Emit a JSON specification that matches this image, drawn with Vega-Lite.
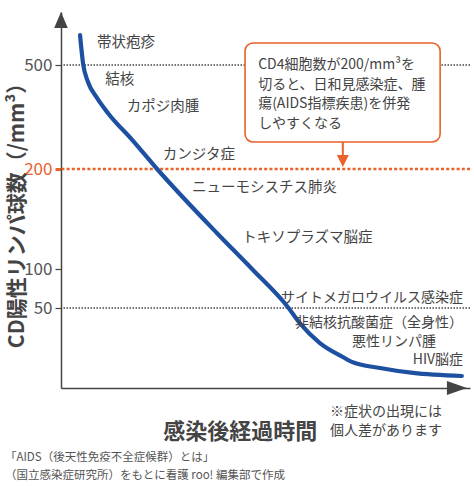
{
  "$schema": "https://vega.github.io/schema/vega-lite/v6.json",
  "width": 409,
  "height": 376,
  "autosize": "none",
  "padding": {"left": 61, "top": 12, "right": 4, "bottom": 98},
  "background": "white",
  "config": {"font": "Noto Sans CJK JP", "view": {"stroke": null}},
  "title": {
    "text": ["「AIDS（後天性免疫不全症候群）とは」", "（国立感染症研究所）をもとに看護 roo! 編集部で作成"],
    "orient": "bottom",
    "anchor": "start",
    "frame": "group",
    "dx": -56,
    "offset": 9,
    "fontSize": 11.5,
    "fontWeight": "normal",
    "color": "#555555",
    "lineHeight": 17.5
  },
  "datasets": {
    "grayLines": [{"y": 500}, {"y": 50}],
    "orangeLine": [{"y": 200}],
    "curve": [
      {"x": 4.65, "y": 613}, {"x": 5.4, "y": 505}, {"x": 6.6, "y": 451}, {"x": 8.8, "y": 405},
      {"x": 11.5, "y": 361}, {"x": 17.4, "y": 284}, {"x": 23.5, "y": 200}, {"x": 38.1, "y": 136},
      {"x": 46.7, "y": 100}, {"x": 55.5, "y": 51}, {"x": 58.4, "y": 40.6}, {"x": 63.3, "y": 28.1},
      {"x": 68.9, "y": 19.4}, {"x": 71.1, "y": 16.3}, {"x": 78.0, "y": 12.5}, {"x": 86.1, "y": 9.4},
      {"x": 98.0, "y": 7.5}
    ],
    "box": [{"x": 45.0, "x2": 92.7, "y": 583, "y2": 278}],
    "stem": [{"x": 68.9, "y": 278, "y2": 235}],
    "head": [{"x": 68.9, "y": 223}],
    "boxText": [{"x": 48.2, "y": 500, "label": "CD4細胞数が200/mm³を\n切ると、日和見感染症、腫\n瘍(AIDS指標疾患)を併発\nしやすくなる"}],
    "leftLabels": [
      {"x": 8.8, "y": 583, "label": "帯状疱疹"},
      {"x": 10.8, "y": 457, "label": "結核"},
      {"x": 16.1, "y": 379, "label": "カポジ肉腫"},
      {"x": 24.9, "y": 240, "label": "カンジタ症"},
      {"x": 32.0, "y": 181, "label": "ニューモシスチス肺炎"},
      {"x": 44.3, "y": 131, "label": "トキソプラズマ脳症"}
    ],
    "rightLabels": [
      {"x": 98.3, "y": 62.8, "label": "サイトメガロウイルス感染症"},
      {"x": 98.3, "y": 40.6, "label": "非結核抗酸菌症（全身性）"},
      {"x": 91.7, "y": 28.75, "label": "悪性リンパ腫"},
      {"x": 98.3, "y": 17.5, "label": "HIV脳症"}
    ],
    "note": [{"x": 65.8, "y": -15, "label": "※症状の出現には\n　個人差があります"}],
    "xTitle": [{"x": 43.8, "y": -27.5, "label": "感染後経過時間"}],
    "yArrow": [{"x": 0, "y": 670}],
    "xArrow": [{"x": 96.8, "y": 0}]
  },
  "layer": [
    {
      "data": {"name": "grayLines"},
      "mark": {"type": "rule", "color": "#444444", "strokeWidth": 1.3, "strokeDash": [1.5, 1.5]},
      "encoding": {
        "y": {"field": "y", "type": "quantitative",
              "scale": {"domain": [0, 50, 100, 200, 500, 700], "range": [376, 296, 257, 157, 53, 0], "nice": false, "zero": false}}
      }
    },
    {
      "data": {"name": "orangeLine"},
      "mark": {"type": "rule", "color": "#E8622A", "strokeWidth": 2.6, "strokeDash": [3, 2.2]},
      "encoding": {
        "y": {"field": "y", "type": "quantitative",
              "scale": {"domain": [0, 50, 100, 200, 500, 700], "range": [376, 296, 257, 157, 53, 0], "nice": false, "zero": false}}
      }
    },
    {
      "data": {"name": "curve"},
      "mark": {"type": "line", "color": "#1E50A2", "strokeWidth": 4.2, "interpolate": "monotone", "strokeCap": "round"},
      "encoding": {
        "x": {"field": "x", "type": "quantitative",
              "scale": {"domain": [0, 100], "nice": false, "zero": false},
              "axis": {"ticks": false, "labels": false, "grid": false, "domainColor": "#444444", "domainWidth": 1.5, "title": null}},
        "y": {"field": "y", "type": "quantitative",
              "scale": {"domain": [0, 50, 100, 200, 500, 700], "range": [376, 296, 257, 157, 53, 0], "nice": false, "zero": false},
              "axis": {"values": [50, 100, 200, 500], "grid": false, "tickSize": 6,
                       "tickColor": {"condition": {"test": "datum.value === 200", "value": "#E8622A"}, "value": "#444444"},
                       "tickWidth": {"condition": {"test": "datum.value === 200", "value": 3}, "value": 1.2},
                       "labelColor": {"condition": {"test": "datum.value === 200", "value": "#E8622A"}, "value": "#555555"},
                       "labelFontSize": 17, "labelPadding": 3,
                       "domainColor": "#444444", "domainWidth": 1.5,
                       "title": "CD陽性リンパ球数（/mm³）", "titleFontSize": 21, "titleFontWeight": "bold", "titleColor": "#444444",
                       "titleX": -44, "titleY": 198, "titleAngle": -90, "titleBaseline": "middle", "titleAlign": "center"}}
      }
    },
    {
      "data": {"name": "box"},
      "mark": {"type": "rect", "fill": "white", "stroke": "#E8622A", "strokeWidth": 1.6, "cornerRadius": 8},
      "encoding": {
        "x": {"field": "x", "type": "quantitative", "scale": {"domain": [0, 100], "nice": false, "zero": false}},
        "x2": {"field": "x2"},
        "y": {"field": "y", "type": "quantitative",
              "scale": {"domain": [0, 50, 100, 200, 500, 700], "range": [376, 296, 257, 157, 53, 0], "nice": false, "zero": false}},
        "y2": {"field": "y2"}
      }
    },
    {
      "data": {"name": "stem"},
      "mark": {"type": "rule", "color": "#E8622A", "strokeWidth": 2},
      "encoding": {
        "x": {"field": "x", "type": "quantitative", "scale": {"domain": [0, 100], "nice": false, "zero": false}},
        "y": {"field": "y", "type": "quantitative",
              "scale": {"domain": [0, 50, 100, 200, 500, 700], "range": [376, 296, 257, 157, 53, 0], "nice": false, "zero": false}},
        "y2": {"field": "y2"}
      }
    },
    {
      "data": {"name": "head"},
      "mark": {"type": "point", "shape": "M-1,-1L1,-1L0,1Z", "size": 144, "filled": true, "color": "#E8622A", "opacity": 1},
      "encoding": {
        "x": {"field": "x", "type": "quantitative", "scale": {"domain": [0, 100], "nice": false, "zero": false}},
        "y": {"field": "y", "type": "quantitative",
              "scale": {"domain": [0, 50, 100, 200, 500, 700], "range": [376, 296, 257, 157, 53, 0], "nice": false, "zero": false}}
      }
    },
    {
      "data": {"name": "boxText"},
      "mark": {"type": "text", "align": "left", "baseline": "middle", "fontSize": 14, "lineHeight": 19.5, "lineBreak": "\n", "color": "#444444"},
      "encoding": {
        "x": {"field": "x", "type": "quantitative", "scale": {"domain": [0, 100], "nice": false, "zero": false}},
        "y": {"field": "y", "type": "quantitative",
              "scale": {"domain": [0, 50, 100, 200, 500, 700], "range": [376, 296, 257, 157, 53, 0], "nice": false, "zero": false}},
        "text": {"field": "label"}
      }
    },
    {
      "data": {"name": "leftLabels"},
      "mark": {"type": "text", "align": "left", "baseline": "middle", "fontSize": 14.5, "color": "#444444"},
      "encoding": {
        "x": {"field": "x", "type": "quantitative", "scale": {"domain": [0, 100], "nice": false, "zero": false}},
        "y": {"field": "y", "type": "quantitative",
              "scale": {"domain": [0, 50, 100, 200, 500, 700], "range": [376, 296, 257, 157, 53, 0], "nice": false, "zero": false}},
        "text": {"field": "label"}
      }
    },
    {
      "data": {"name": "rightLabels"},
      "mark": {"type": "text", "align": "right", "baseline": "middle", "fontSize": 14, "color": "#444444"},
      "encoding": {
        "x": {"field": "x", "type": "quantitative", "scale": {"domain": [0, 100], "nice": false, "zero": false}},
        "y": {"field": "y", "type": "quantitative",
              "scale": {"domain": [0, 50, 100, 200, 500, 700], "range": [376, 296, 257, 157, 53, 0], "nice": false, "zero": false}},
        "text": {"field": "label"}
      }
    },
    {
      "data": {"name": "note"},
      "mark": {"type": "text", "align": "left", "baseline": "middle", "fontSize": 14, "lineHeight": 18.5, "lineBreak": "\n", "color": "#444444"},
      "encoding": {
        "x": {"field": "x", "type": "quantitative", "scale": {"domain": [0, 100], "nice": false, "zero": false}},
        "y": {"field": "y", "type": "quantitative",
              "scale": {"domain": [0, 50, 100, 200, 500, 700], "range": [376, 296, 257, 157, 53, 0], "nice": false, "zero": false}},
        "text": {"field": "label"}
      }
    },
    {
      "data": {"name": "xTitle"},
      "mark": {"type": "text", "align": "center", "baseline": "middle", "fontSize": 22, "fontWeight": "bold", "color": "#444444"},
      "encoding": {
        "x": {"field": "x", "type": "quantitative", "scale": {"domain": [0, 100], "nice": false, "zero": false}},
        "y": {"field": "y", "type": "quantitative",
              "scale": {"domain": [0, 50, 100, 200, 500, 700], "range": [376, 296, 257, 157, 53, 0], "nice": false, "zero": false}},
        "text": {"field": "label"}
      }
    },
    {
      "data": {"name": "yArrow"},
      "mark": {"type": "point", "shape": "M0,-1L0.85,1L-0.85,1Z", "size": 256, "filled": true, "color": "#444444", "opacity": 1},
      "encoding": {
        "x": {"field": "x", "type": "quantitative", "scale": {"domain": [0, 100], "nice": false, "zero": false}},
        "y": {"field": "y", "type": "quantitative",
              "scale": {"domain": [0, 50, 100, 200, 500, 700], "range": [376, 296, 257, 157, 53, 0], "nice": false, "zero": false}}
      }
    },
    {
      "data": {"name": "xArrow"},
      "mark": {"type": "point", "shape": "M-1,-0.7L1,0L-1,0.7Z", "size": 400, "filled": true, "color": "#444444", "opacity": 1},
      "encoding": {
        "x": {"field": "x", "type": "quantitative", "scale": {"domain": [0, 100], "nice": false, "zero": false}},
        "y": {"field": "y", "type": "quantitative",
              "scale": {"domain": [0, 50, 100, 200, 500, 700], "range": [376, 296, 257, 157, 53, 0], "nice": false, "zero": false}}
      }
    }
  ]
}
